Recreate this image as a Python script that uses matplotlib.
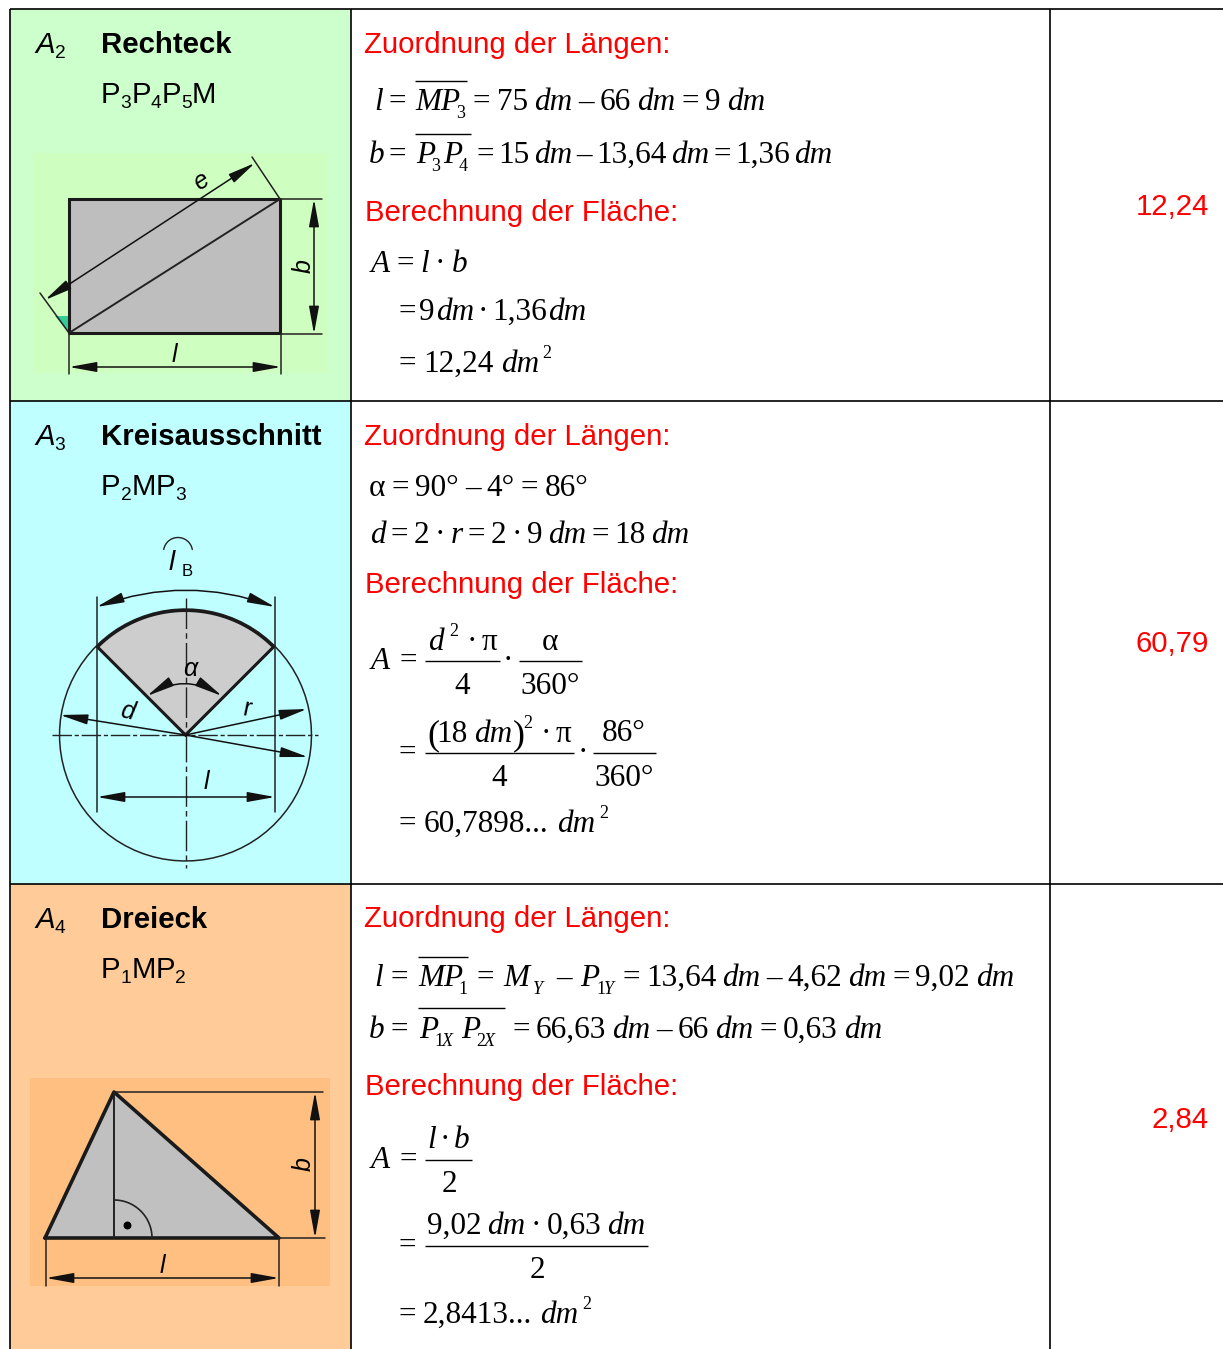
import re
import numpy as np
import matplotlib
matplotlib.use('Agg')
import matplotlib.pyplot as plt

# table
row_lines = [9, 401, 884]
col_lines = [10, 351, 1050]
row_colors = ['#CCFFCC', '#BFFFFF', '#FFCC99']
symbols = ['A_2', 'A_3', 'A_4']
shapes = ['Rechteck', 'Kreisausschnitt', 'Dreieck']
points = ['P_3P_4P_5M', 'P_2MP_3', 'P_1MP_2']
results = ['12,24', '60,79', '2,84']
result_y = [215, 652, 1128]
title_y = [53, 445, 928]
head2 = 'Zuordnung der Längen:'
head3 = 'Berechnung der Fläche:'
head2_y = [53, 445, 927]
head3_y = [221, 593, 1095]

RED = '#FF0000'
SANS = 'Liberation Sans'
SERIF = 'Liberation Serif'
FS = 21.2
MS = 22.5

fig = plt.figure(figsize=(12.23, 13.49), dpi=100)
ax = fig.add_axes([0, 0, 1, 1])
ax.set_xlim(0, 1223)
ax.set_ylim(1349, 0)
ax.axis('off')
rend = fig.canvas.get_renderer()


def width(s, size, family, style='normal'):
    t = ax.text(0, 0, s, fontsize=size, family=family, style=style)
    w = t.get_window_extent(rend).width
    t.remove()
    return w


def txt(x, y, s, size=MS, family=SERIF, style='normal', ha='left', color='k', weight='normal', rot=0, va='baseline'):
    ax.text(x, y, s, fontsize=size, family=family, style=style, ha=ha, va=va, color=color,
            weight=weight, rotation=rot, rotation_mode='anchor' if va == 'baseline' else 'default')


def runs(tok):
    parts = tok.split('*')
    return [(p, 'italic' if i % 2 else 'normal') for i, p in enumerate(parts) if p]


# lay tokens out between x0 and x1, *..* is italic
def seq(x0, x1, y, s):
    toks = s.split(' ')
    ws = [sum(width(p, MS, SERIF, st) + 1 for p, st in runs(t)) for t in toks]
    gap = (x1 - x0 - sum(ws)) / max(len(toks) - 1, 1)
    x = x0
    for t in toks:
        for p, st in runs(t):
            txt(x, y, p, style=st)
            x += width(p, MS, SERIF, st) + 1
        x += gap


def sub_label(x, y, s, style='normal'):
    for part in re.findall(r'_\d|[^_]', s):
        if part[0] == '_':
            txt(x, y + 5, part[1], size=FS * 0.65, family=SANS)
            x += width(part[1], FS * 0.65, SANS)
        else:
            txt(x, y, part, size=FS, family=SANS, style=style)
            x += width(part, FS, SANS, style)


def bar(x0, x1, y, lw=1.0):
    ax.plot([x0, x1], [y, y], color='k', lw=lw, solid_capstyle='butt')


def line(pts, lw=1.1, color='#222222', ls='-', z=3):
    xy = np.array(pts)
    ax.plot(xy[:, 0], xy[:, 1], color=color, lw=lw, ls=ls, zorder=z, solid_capstyle='round')


def arrow(a, b, both=False, rad=0):
    ax.annotate('', xy=b, xytext=a, zorder=4,
                arrowprops=dict(arrowstyle=('<|-|>' if both else '-|>') + ',head_length=1.05,head_width=0.19',
                                color='#111111', lw=1.1, shrinkA=0, shrinkB=0, mutation_scale=16,
                                connectionstyle=f'arc3,rad={rad}'))


def arc(c, r, a0, a1):
    t = np.radians(np.linspace(a0, a1, 80))
    return np.column_stack([c[0] + r * np.cos(t), c[1] - r * np.sin(t)])


# backgrounds
tops = row_lines + [1349]
for i, col in enumerate(row_colors):
    ax.fill_between([col_lines[0], col_lines[1]], tops[i], tops[i + 1], color=col, lw=0, zorder=0)

# rows text
for i in range(3):
    sub_label(35, title_y[i], symbols[i], style='italic')
    txt(101, title_y[i], shapes[i], size=FS, family=SANS, weight='bold')
    sub_label(101, title_y[i] + 50, points[i])
    txt(364, head2_y[i], head2, size=FS, family=SANS, color=RED)
    txt(365, head3_y[i], head3, size=FS, family=SANS, color=RED)
    txt(1209, result_y[i], results[i], size=FS, family=SANS, color=RED, ha='right')

# grid lines
for y in row_lines:
    ax.plot([10, 1223], [y, y], color='k', lw=1.2, zorder=6, solid_capstyle='butt')
for x in col_lines:
    ax.plot([x, x], [9, 1349], color='k', lw=1.2, zorder=6, solid_capstyle='butt')

# formulas row 1
txt(374, 110, 'l', style='italic')
txt(389, 110, '=')
txt(415, 110, 'MP', style='italic')
txt(456, 118, '3', size=13)
bar(415, 467, 81)
seq(473, 766, 110, '= 75 *dm* – 66 *dm* = 9 *dm*')
txt(369, 163, 'b', style='italic')
txt(389, 163, '=')
txt(416, 163, 'P', style='italic')
txt(431, 171, '3', size=13)
txt(443, 163, 'P', style='italic')
txt(459, 171, '4', size=13)
bar(415, 471, 134)
seq(477, 833, 163, '= 15 *dm* – 13,64 *dm* = 1,36 *dm*')
seq(371, 468, 272, '*A* = *l* · *b*')
seq(398, 587, 320, '= 9*dm* · 1,36*dm*')
seq(398, 540, 372, '= 12,24 *dm*')
txt(542, 358, '2', size=13)

# formulas row 2
seq(369, 589, 496, 'α = 90° – 4° = 86°')
seq(370, 690, 543, '*d* = 2 · *r* = 2 · 9 *dm* = 18 *dm*')
seq(371, 418, 669, '*A* =')
txt(428, 650, 'd', style='italic')
txt(449, 636, '2', size=13)
seq(467, 498, 650, '· π')
bar(425, 500, 661)
txt(462, 694, '4', ha='center')
txt(508, 669, '·', ha='center')
txt(550, 650, 'α', ha='center')
bar(519, 582, 661)
txt(550, 694, '360°', ha='center')
txt(398, 761, '=')
txt(427, 744, '(', size=26)
seq(436, 513, 742, '18 *dm*')
txt(513, 744, ')', size=26)
txt(523, 728, '2', size=13)
seq(541, 572, 742, '· π')
bar(425, 574, 753)
txt(499, 786, '4', ha='center')
txt(583, 761, '·', ha='center')
txt(624, 741, '86°', ha='center')
bar(593, 656, 753)
txt(624, 786, '360°', ha='center')
seq(398, 596, 832, '= 60,7898... *dm*')
txt(599, 818, '2', size=13)

# formulas row 3
txt(374, 986, 'l', style='italic')
txt(390, 986, '=')
txt(418, 986, 'MP', style='italic')
txt(458, 994, '1', size=13)
bar(418, 468, 957)
txt(476, 986, '=')
txt(503, 986, 'M', style='italic')
txt(533, 994, 'Y', size=13, style='italic')
txt(556, 986, '–')
txt(580, 986, 'P', style='italic')
txt(596, 994, '1', size=13)
txt(604, 994, 'Y', size=13, style='italic')
seq(623, 1015, 986, '= 13,64 *dm* – 4,62 *dm* = 9,02 *dm*')
txt(369, 1038, 'b', style='italic')
txt(390, 1038, '=')
txt(419, 1038, 'P', style='italic')
txt(434, 1046, '1', size=13)
txt(442, 1046, 'X', size=13, style='italic')
txt(461, 1038, 'P', style='italic')
txt(476, 1046, '2', size=13)
txt(484, 1046, 'X', size=13, style='italic')
bar(418, 505, 1008)
seq(512, 883, 1038, '= 66,63 *dm* – 66 *dm* = 0,63 *dm*')
seq(371, 418, 1168, '*A* =')
seq(427, 470, 1148, '*l* · *b*')
bar(425, 472, 1160)
txt(449, 1192, '2', ha='center')
txt(398, 1254, '=')
seq(427, 646, 1234, '9,02 *dm* · 0,63 *dm*')
bar(425, 648, 1246)
txt(537, 1278, '2', ha='center')
seq(398, 579, 1323, '= 2,8413... *dm*')
txt(582, 1309, '2', size=13)

# diagram 1 rectangle
GRAY = '#BEBEBE'
ax.fill_between([33, 327], 153, 373, color='#CFFFC0', lw=0, zorder=1)
rect = [(69, 199), (280, 199), (280, 333), (69, 333), (69, 199)]
ax.fill(*zip(*rect), color=GRAY, lw=0, zorder=2)
ax.fill(*zip((55, 316), (69, 316), (69, 333)), color='#33CC99', lw=0, zorder=2)
line(rect, lw=2.2, color='#1A1A1A')
line([(69, 333), (280, 199)], lw=1.4)
arrow((45, 300), (255, 163), both=True)
line([(280, 199), (252, 157)])
line([(69, 333), (40, 293)])
line([(280, 199), (322, 199)])
line([(280, 334), (322, 334)])
line([(69, 333), (69, 374)])
line([(281, 333), (281, 374)])
arrow((314, 199), (314, 334), both=True)
arrow((69, 367), (281, 367), both=True)
txt(201, 181, 'e', size=18, family=SANS, style='italic', ha='center', rot=33, va='center')
txt(304, 266, 'b', size=18, family=SANS, style='italic', ha='center', rot=90, va='center')
txt(174, 355, 'l', size=18, family=SANS, style='italic', ha='center', va='center')

# diagram 2 sector
ax.fill_between([36, 324], 534, 867, color='#BFFFFF', lw=0, zorder=1)
c = (185.5, 735)
R = 126
sector = np.vstack([[c], arc(c, 124.5, 45, 135), [c]])
ax.fill(sector[:, 0], sector[:, 1], color='#CDCDCD', lw=0, zorder=2)
line(arc(c, R, 0, 360), lw=1.1)
line(sector, lw=2.2, color='#1A1A1A')
line([(52, 735), (318, 735)], lw=1.0, ls=(0, (14, 2, 3, 2)))
line([(185.5, 598), (185.5, 868)], lw=1.0, ls=(0, (22, 3, 4, 3)))
line([(96.5, 597), (96.5, 812)])
line([(275, 597), (275, 812)])
arrow((96.5, 607), (275, 607), both=True, rad=-0.18)
arrow((147, 696), (222, 696), both=True, rad=-0.3)
arrow(c, (60, 715))
arrow(c, (307, 709))
arrow(c, (308, 757))
arrow((97, 797), (275, 797), both=True)
line(arc((178, 552), 14.5, 10, 170), lw=1.0)
txt(172, 563, 'l', size=20, family=SANS, style='italic', ha='center', va='center')
txt(187, 571, 'B', size=12, family=SANS, ha='center', va='center')
txt(190, 669, 'α', size=18, family=SANS, style='italic', ha='center', va='center')
txt(127, 712, 'd', size=18, family=SANS, style='italic', ha='center', rot=-12, va='center')
txt(247, 709, 'r', size=18, family=SANS, ha='center', rot=-12, va='center')
txt(206, 782, 'l', size=18, family=SANS, style='italic', ha='center', va='center')

# diagram 3 triangle
ax.fill_between([30, 330], 1078, 1286, color='#FFBF80', lw=0, zorder=1)
tri = [(45, 1238), (114, 1092), (279, 1238), (45, 1238)]
ax.fill(*zip(*tri), color='#C0C0C0', lw=0, zorder=2)
line(tri, lw=2.6, color='#1A1A1A')
line([(114, 1092), (114, 1238)], lw=1.4)
line(arc((114, 1238), 38, 0, 90), lw=1.2)
ax.scatter([127], [1225], s=22, color='k', zorder=4)
line([(114, 1092), (323, 1092)])
line([(280, 1238), (325, 1238)])
line([(46, 1238), (46, 1286)])
line([(279, 1238), (279, 1286)])
arrow((315, 1092), (315, 1238), both=True)
arrow((46, 1278), (279, 1278), both=True)
txt(304, 1164, 'b', size=18, family=SANS, style='italic', ha='center', rot=90, va='center')
txt(162, 1266, 'l', size=18, family=SANS, style='italic', ha='center', va='center')

fig.savefig('out.png', dpi=100)
